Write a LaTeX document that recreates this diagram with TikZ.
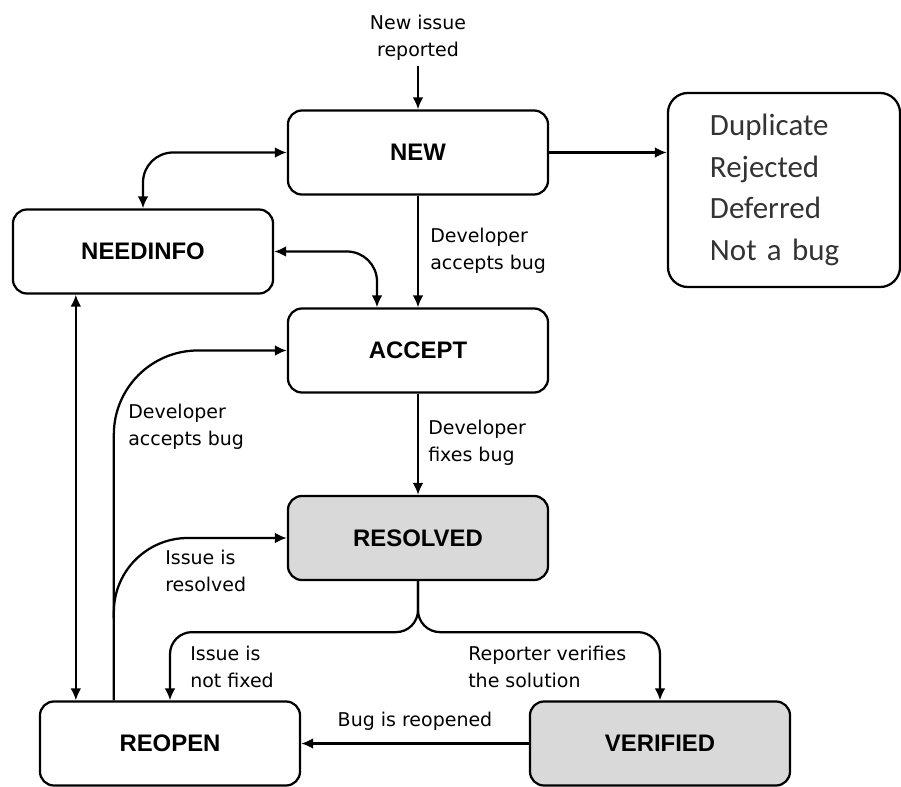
\documentclass[tikz,border=0pt]{standalone}
\usepackage{fontspec}
\usepackage{tikz}
\usetikzlibrary{arrows.meta,calc}
\newfontfamily\statefont{Liberation Sans}
\newfontfamily\notefont{DejaVu Sans}
\newfontfamily\listfont{Carlito}

\begin{document}
\begin{tikzpicture}[x=0.025cm, y=-0.025cm,
    >={Latex[length=0.3cm,width=0.27cm]},
    state/.style={draw, line width=1.6pt, rounded corners=0.35cm,
        minimum width=6.5cm, minimum height=2.1cm,
        font=\statefont\bfseries\fontsize{17}{20}\selectfont},
    done/.style={state, fill=black!15},
    note/.style={anchor=west, align=left, inner sep=0pt,
        font=\notefont\fontsize{13.5}{19}\selectfont},
    flow/.style={line width=1.6pt, ->},
    both/.style={line width=1.6pt, <->}]
\useasboundingbox (0,0) rectangle (901,787);

% states
\node[state] (new) at (418,152.5) {NEW};
\node[state] (needinfo) at (143,251.5) {NEEDINFO};
\node[state] (accept) at (418,350.5) {ACCEPT};
\node[done] (resolved) at (418,538) {RESOLVED};
\node[state] (reopen) at (170,743.5) {REOPEN};
\node[done] (verified) at (660,743.5) {VERIFIED};
\node[draw, line width=1.6pt, rounded corners=0.5cm, minimum height=4.85cm,
    text width=3.7cm, inner xsep=1.05cm, align=left,
    font=\listfont\fontsize{22}{29.6}\selectfont, text=black!80] (closed) at (784,190)
    {Duplicate\\Rejected\\Deferred\\Not a bug};

% entry
\node[note, anchor=center, align=center] (entry) at (418,38) {New issue\\reported};
\draw[flow] ([yshift=-4pt]entry.south) -- (new.north);

% NEW goes out, or to NEEDINFO, or to ACCEPT
\draw[flow] (new.east) -- (new.east -| closed.west);
\draw[both, rounded corners=0.75cm] (needinfo.north) |- (new.west);
\coordinate (acc-in) at ($(accept.north)+(-41,0)$);
\draw[both, rounded corners=0.75cm] (needinfo.east) -| (acc-in);
\draw[flow] (new) -- (accept);
\node[note] (n1) at (430,251) {Developer\\accepts bug};

% ACCEPT -> RESOLVED
\draw[flow] (accept) -- (resolved);
\node[note] (n2) at (428,443) {Developer\\fixes bug};

% NEEDINFO <-> REOPEN
\coordinate (ni-out) at ($(needinfo.south west)+(64,0)$);
\draw[both] (ni-out) -- (ni-out |- reopen.north);

% REOPEN back to ACCEPT and RESOLVED
\coordinate (re-out) at ($(reopen.north west)+(75,0)$);
\draw[flow, rounded corners=2.1cm] (re-out) |- (accept.west);
\node[note] (n3) at (128,427) {Developer\\accepts bug};
\coordinate (re-fork) at ($(re-out)+(0,-82)$);
\draw[flow, rounded corners=1.85cm] (re-fork) |- (resolved.west);
\node[note] (n4) at (165,571) {Issue is\\resolved};

% RESOLVED splits
\coordinate (fork) at ($(resolved.south)+(0,51)$);
\draw[flow, rounded corners=0.55cm] (resolved.south) -- (fork) -| (reopen.north);
\draw[flow, rounded corners=0.55cm] (resolved.south) -- (fork) -| (verified.north);
\node[note] (n5) at (190,667) {Issue is\\not fixed};
\node[note] (n6) at (468,667) {Reporter verifies\\the solution};

% VERIFIED -> REOPEN
\draw[flow] (verified) -- (reopen);
\node[note, anchor=center] (n7) at ($(reopen.east)!0.5!(verified.west)+(0,-22)$) {Bug is reopened};
\end{tikzpicture}
\end{document}
